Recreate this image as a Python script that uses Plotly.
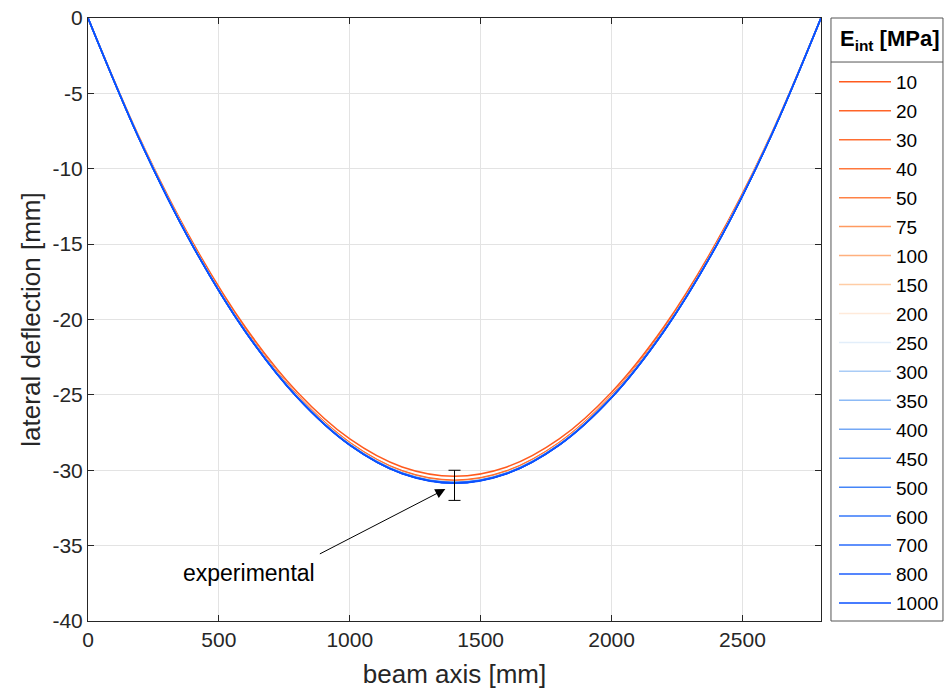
import plotly.graph_objects as go

# Beam axis sample positions [mm]
x_mm = [0, 200, 400, 600, 800, 1000, 1200, 1400, 1600, 1800, 2000, 2200, 2400, 2600, 2800]

# Interface modulus E_int [MPa] (legend labels)
e_int = ["10", "20", "30", "40", "50", "75", "100", "150", "200", "250",
         "300", "350", "400", "450", "500", "600", "700", "800", "1000"]

# Lateral deflection [mm] per series
defl = {
    "10":   [0, -8.07, -14.89, -20.48, -24.82, -27.92, -29.78, -30.40, -29.78, -27.92, -24.82, -20.48, -14.89, -8.07, 0],
    "20":   [0, -8.13, -15.02, -20.65, -25.03, -28.16, -30.03, -30.66, -30.03, -28.16, -25.03, -20.65, -15.02, -8.13, 0],
    "30":   [0, -8.14, -15.04, -20.68, -25.06, -28.19, -30.07, -30.70, -30.07, -28.19, -25.06, -20.68, -15.04, -8.14, 0],
    "40":   [0, -8.15, -15.05, -20.69, -25.08, -28.21, -30.09, -30.72, -30.09, -28.21, -25.08, -20.69, -15.05, -8.15, 0],
    "50":   [0, -8.16, -15.06, -20.70, -25.09, -28.23, -30.11, -30.74, -30.11, -28.23, -25.09, -20.70, -15.06, -8.16, 0],
    "75":   [0, -8.16, -15.07, -20.72, -25.11, -28.25, -30.13, -30.76, -30.13, -28.25, -25.11, -20.72, -15.07, -8.16, 0],
    "100":  [0, -8.16, -15.07, -20.72, -25.12, -28.26, -30.14, -30.77, -30.14, -28.26, -25.12, -20.72, -15.07, -8.16, 0],
    "150":  [0, -8.17, -15.08, -20.73, -25.13, -28.27, -30.15, -30.78, -30.15, -28.27, -25.13, -20.73, -15.08, -8.17, 0],
    "200":  [0, -8.17, -15.08, -20.74, -25.13, -28.28, -30.16, -30.79, -30.16, -28.28, -25.13, -20.74, -15.08, -8.17, 0],
    "250":  [0, -8.17, -15.08, -20.74, -25.13, -28.28, -30.16, -30.79, -30.16, -28.28, -25.13, -20.74, -15.08, -8.17, 0],
    "300":  [0, -8.17, -15.09, -20.74, -25.14, -28.29, -30.17, -30.80, -30.17, -28.29, -25.14, -20.74, -15.09, -8.17, 0],
    "350":  [0, -8.17, -15.09, -20.75, -25.15, -28.30, -30.18, -30.81, -30.18, -28.30, -25.15, -20.75, -15.09, -8.17, 0],
    "400":  [0, -8.18, -15.10, -20.76, -25.16, -28.31, -30.19, -30.82, -30.19, -28.31, -25.16, -20.76, -15.10, -8.18, 0],
    "450":  [0, -8.18, -15.10, -20.76, -25.16, -28.31, -30.19, -30.82, -30.19, -28.31, -25.16, -20.76, -15.10, -8.18, 0],
    "500":  [0, -8.18, -15.10, -20.76, -25.17, -28.31, -30.20, -30.83, -30.20, -28.31, -25.17, -20.76, -15.10, -8.18, 0],
    "600":  [0, -8.18, -15.11, -20.77, -25.17, -28.32, -30.21, -30.84, -30.21, -28.32, -25.17, -20.77, -15.11, -8.18, 0],
    "700":  [0, -8.18, -15.11, -20.78, -25.18, -28.33, -30.22, -30.85, -30.22, -28.33, -25.18, -20.78, -15.11, -8.18, 0],
    "800":  [0, -8.18, -15.11, -20.78, -25.18, -28.33, -30.22, -30.85, -30.22, -28.33, -25.18, -20.78, -15.11, -8.18, 0],
    "1000": [0, -8.19, -15.12, -20.78, -25.19, -28.34, -30.23, -30.86, -30.23, -28.34, -25.19, -20.78, -15.12, -8.19, 0],
}

colors = ["#FF5A1E", "#FF6428", "#FF6E32", "#FF783C", "#FF8246", "#FF9A60", "#FFB07E",
          "#FFCDA6", "#FFEADA", "#E2EEFA", "#A9CCF6", "#8CBAF6", "#74A8F6", "#5B96F6",
          "#4485F8", "#3677FA", "#2A6BFB", "#1C5EFC", "#0A50FF"]

# Experimental measurement at midspan
exp_x = [1400]
exp_y = [-31]
exp_err = [1]

x_ticks = [0, 500, 1000, 1500, 2000, 2500]
y_ticks = [0, -5, -10, -15, -20, -25, -30, -35, -40]

FONT = "Liberation Sans, Arial, sans-serif"
TXT = "#262626"

fig = go.Figure()
for name, col in zip(e_int, colors):
    fig.add_trace(go.Scatter(x=x_mm, y=defl[name], mode="lines", name=name,
                             legendgroup=name,
                             line=dict(color=col, width=1.5, shape="spline")))

fig.add_trace(go.Scatter(x=exp_x, y=exp_y, mode="markers", showlegend=False,
                         marker=dict(size=1, color="rgba(0,0,0,0)"),
                         error_y=dict(type="data", array=exp_err, color="black",
                                      thickness=1, width=6)))

axis_common = dict(showline=True, linecolor=TXT, linewidth=1, mirror="ticks",
                   ticks="inside", ticklen=6, tickcolor=TXT, showgrid=True,
                   gridcolor="#E3E3E3", gridwidth=1, zeroline=False,
                   tickfont=dict(family=FONT, size=21, color=TXT))

fig.update_xaxes(range=[0, 2800], tickvals=x_ticks, ticktext=[str(v) for v in x_ticks],
                 title=dict(text="beam axis [mm]", font=dict(family=FONT, size=26, color=TXT),
                            standoff=14),
                 **axis_common)
fig.update_yaxes(range=[-40, 0], tickvals=y_ticks, ticktext=[str(v) for v in y_ticks],
                 title=dict(text="lateral deflection [mm]", font=dict(family=FONT, size=26, color=TXT),
                            standoff=4),
                 **axis_common)

fig.add_annotation(x=1365, y=-31.25, ax=880, ay=-35.6, axref="x", ayref="y",
                   xref="x", yref="y", text="", showarrow=True, arrowhead=2,
                   arrowsize=2, arrowwidth=1, arrowcolor="black", standoff=0)
fig.add_annotation(x=616, y=-36.8, xref="x", yref="y", text="experimental",
                   showarrow=False, font=dict(family=FONT, size=23, color="black"))

# legend box, title and divider
fig.add_shape(type="rect", xref="paper", yref="paper", x0=1.0136, x1=1.1664, y0=0, y1=1,
              line=dict(color="#555555", width=1), fillcolor="rgba(0,0,0,0)")
fig.add_shape(type="line", xref="paper", yref="paper", x0=1.0136, x1=1.1664, y0=0.927, y1=0.927,
              line=dict(color="#555555", width=1))
fig.add_annotation(x=1.094, y=0.9635, xref="paper", yref="paper", xanchor="center", yanchor="middle",
                   text="<b>E<sub>int</sub> [MPa]</b>", showarrow=False,
                   font=dict(family=FONT, size=22, color="black"))

fig.update_layout(
    width=944, height=695,
    margin=dict(l=88, r=123, t=18, b=74, autoexpand=False),
    paper_bgcolor="white", plot_bgcolor="white",
    font=dict(family=FONT, color=TXT),
    legend=dict(x=834 / 944, y=(695 - 63) / 695, xref="container", yref="container",
                xanchor="left", yanchor="top", maxheight=640,
                bgcolor="rgba(0,0,0,0)", borderwidth=0,
                font=dict(family=FONT, size=19, color="black"),
                itemwidth=52, tracegroupgap=1.25, traceorder="grouped"),
)

fig.write_html("out.html")
